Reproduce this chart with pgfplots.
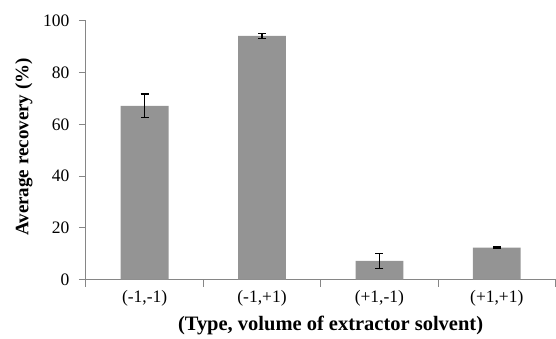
\documentclass[border=0pt]{standalone}
\usepackage{fontspec}
\setmainfont{Liberation Serif}
\usepackage{pgfplots}
\pgfplotsset{compat=1.18}
\definecolor{barcol}{RGB}{148,148,148}
\definecolor{axcol}{RGB}{134,134,134}
\begin{document}
\begin{tikzpicture}
\begin{axis}[
  name=ax,
  scale only axis,
  width=470pt, height=259pt,
  xmin=-0.5, xmax=3.5,
  ymin=0, ymax=100,
  ytick={0,20,40,60,80,100},
  xtick={0,1,2,3},
  xticklabels={(-1,-1),(-1,+1),(+1,-1),(+1,+1)},
  minor xtick={-0.5,0.5,1.5,2.5,3.5},
  axis lines*=left,
  axis line style={draw=axcol, line width=1pt},
  tick align=outside,
  major tick length=7pt,
  minor tick length=7pt,
  xtick style={draw=none},
  ytick style={draw=axcol, line width=1pt},
  minor x tick style={draw=axcol, line width=1pt},
  tick label style={font=\fontsize{17.5}{20}\selectfont},
  yticklabel style={xshift=-6pt},
  /pgf/number format/assume math mode=true,
  xlabel={(Type, volume of extractor solvent)},
  ylabel={Average recovery (\%)},
  xlabel style={at={(axis description cs:0.521,-0.178)}, anchor=center, font=\fontsize{20.5}{24}\selectfont\bfseries},
  ylabel style={at={(axis description cs:-0.132,0.513)}, anchor=center, rotate=0, font=\fontsize{19}{23}\selectfont\bfseries},
  clip=false,
]
\addplot[ybar, bar width=0.407, fill=barcol, draw=none,
  error bars/.cd, y dir=both, y explicit,
  error bar style={black, line width=1.3pt},
  error mark options={black, line width=1.3pt, mark size=4pt, rotate=90}]
  coordinates {
  (0,67.2) +- (0,4.6)
  (1,94.2) +- (0,0.9)
  (2,7.3) +- (0,2.9)
  (3,12.4) +- (0,0.3)
};
\end{axis}
\path ([xshift=-86pt,yshift=-59pt]ax.south west) rectangle ([yshift=21pt]ax.north east);
\end{tikzpicture}
\end{document}
